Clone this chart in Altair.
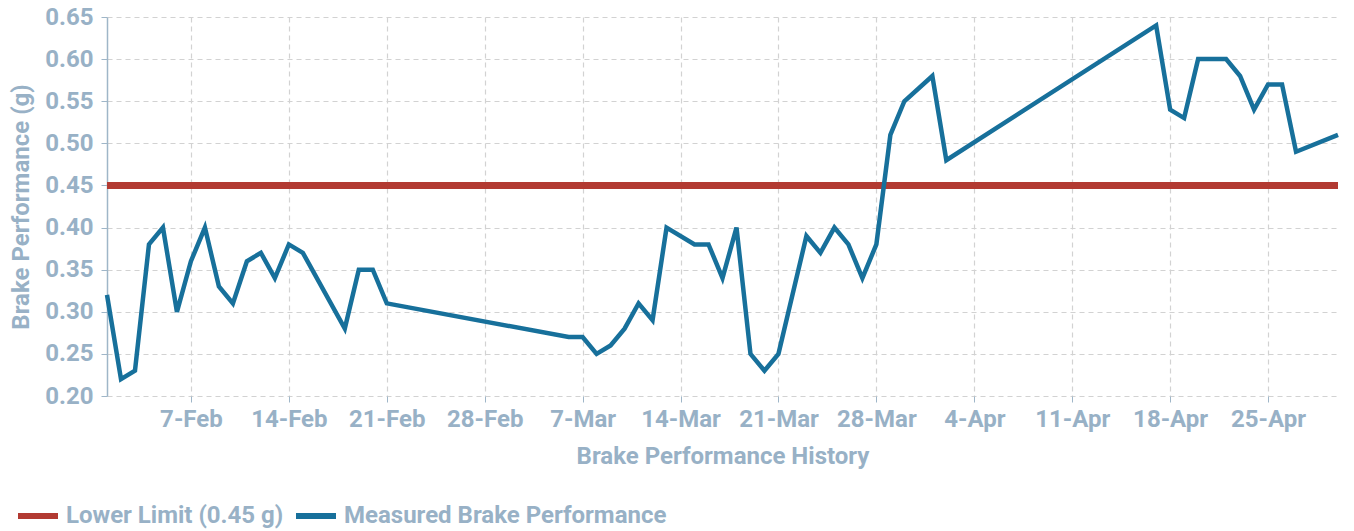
import altair as alt
import pandas as pd

meas_dates = [
    "2021-02-01", "2021-02-02", "2021-02-03", "2021-02-04", "2021-02-05", "2021-02-06",
    "2021-02-07", "2021-02-08", "2021-02-09", "2021-02-10", "2021-02-11", "2021-02-12",
    "2021-02-13", "2021-02-14", "2021-02-15", "2021-02-18", "2021-02-19", "2021-02-20",
    "2021-02-21", "2021-03-06", "2021-03-07", "2021-03-08", "2021-03-09", "2021-03-10",
    "2021-03-11", "2021-03-12", "2021-03-13", "2021-03-15", "2021-03-16", "2021-03-17",
    "2021-03-18", "2021-03-19", "2021-03-20", "2021-03-21", "2021-03-23", "2021-03-24",
    "2021-03-25", "2021-03-26", "2021-03-27", "2021-03-28", "2021-03-29", "2021-03-30",
    "2021-04-01", "2021-04-02", "2021-04-17", "2021-04-18", "2021-04-19", "2021-04-20",
    "2021-04-21", "2021-04-22", "2021-04-23", "2021-04-24", "2021-04-25", "2021-04-26",
    "2021-04-27", "2021-04-30",
]
meas_values = [
    0.32, 0.22, 0.23, 0.38, 0.40, 0.30,
    0.36, 0.40, 0.33, 0.31, 0.36, 0.37,
    0.34, 0.38, 0.37, 0.28, 0.35, 0.35,
    0.31, 0.27, 0.27, 0.25, 0.26, 0.28,
    0.31, 0.29, 0.40, 0.38, 0.38, 0.34,
    0.40, 0.25, 0.23, 0.25, 0.39, 0.37,
    0.40, 0.38, 0.34, 0.38, 0.51, 0.55,
    0.58, 0.48, 0.64, 0.54, 0.53, 0.60,
    0.60, 0.60, 0.58, 0.54, 0.57, 0.57,
    0.49, 0.51,
]
limit_dates = ["2021-02-01", "2021-04-30"]
limit_values = [0.45, 0.45]

series_names = ["Lower Limit (0.45 g)", "Measured Brake Performance"]
series_colors = ["#b23a32", "#17709b"]

TEXT = "#98b1c6"
FONT = "Roboto"

meas = pd.DataFrame({"date": [d + "T00:00:00" for d in meas_dates], "value": meas_values,
                     "series": series_names[1]})
limit = pd.DataFrame({"date": [d + "T00:00:00" for d in limit_dates], "value": limit_values,
                      "series": series_names[0]})

x_enc = alt.X(
    "date:T",
    title="Brake Performance History",
    scale=alt.Scale(domain=[limit_dates[0] + "T00:00:00", limit_dates[1] + "T00:00:00"]),
    axis=alt.Axis(format="%-d-%b", tickCount={"interval": "week", "step": 1},
                  domain=False, labelPadding=5, titlePadding=13),
)
y_enc = alt.Y(
    "value:Q",
    title="Brake Performance (g)",
    scale=alt.Scale(domain=[0.2, 0.65], nice=False, zero=False),
    axis=alt.Axis(format=".2f", values=[0.2, 0.25, 0.3, 0.35, 0.4, 0.45, 0.5, 0.55, 0.6, 0.65],
                  domain=True, labelPadding=8, titlePadding=11),
)
color_enc = alt.Color(
    "series:N",
    scale=alt.Scale(domain=series_names, range=series_colors),
    legend=alt.Legend(title=None, orient="none", legendX=-92, legendY=476, direction="horizontal",
                      symbolType="stroke", symbolSize=1600, symbolStrokeWidth=6,
                      labelFontSize=24, labelFont=FONT, labelFontWeight="bold", labelColor=TEXT,
                      labelOffset=5, columnPadding=0, labelLimit=500),
)

limit_line = alt.Chart(limit).mark_line(strokeWidth=7).encode(x=x_enc, y=y_enc, color=color_enc)
meas_line = alt.Chart(meas).mark_line(strokeWidth=4.5, strokeJoin="miter").encode(x=x_enc, y=y_enc, color=color_enc)

chart = (
    alt.layer(limit_line, meas_line)
    .properties(width=1231, height=379,
                autosize=alt.AutoSizeParams(type="none"),
                padding={"left": 99, "top": 9, "right": 8, "bottom": 135})
    .configure_view(stroke=None)
    .configure_axis(
        labelFont=FONT, titleFont=FONT, labelFontSize=24, titleFontSize=24,
        labelFontWeight="bold", titleFontWeight="bold",
        labelColor=TEXT, titleColor=TEXT,
        gridColor="#d2d2d2", gridDash=[5, 4], gridWidth=1.2,
        tickColor="#9fb6c8", tickSize=6, domainColor="#9fb6c8", domainWidth=1.5,
    )
)

chart.save("out.html", embed_options={"renderer": "svg", "actions": False})
